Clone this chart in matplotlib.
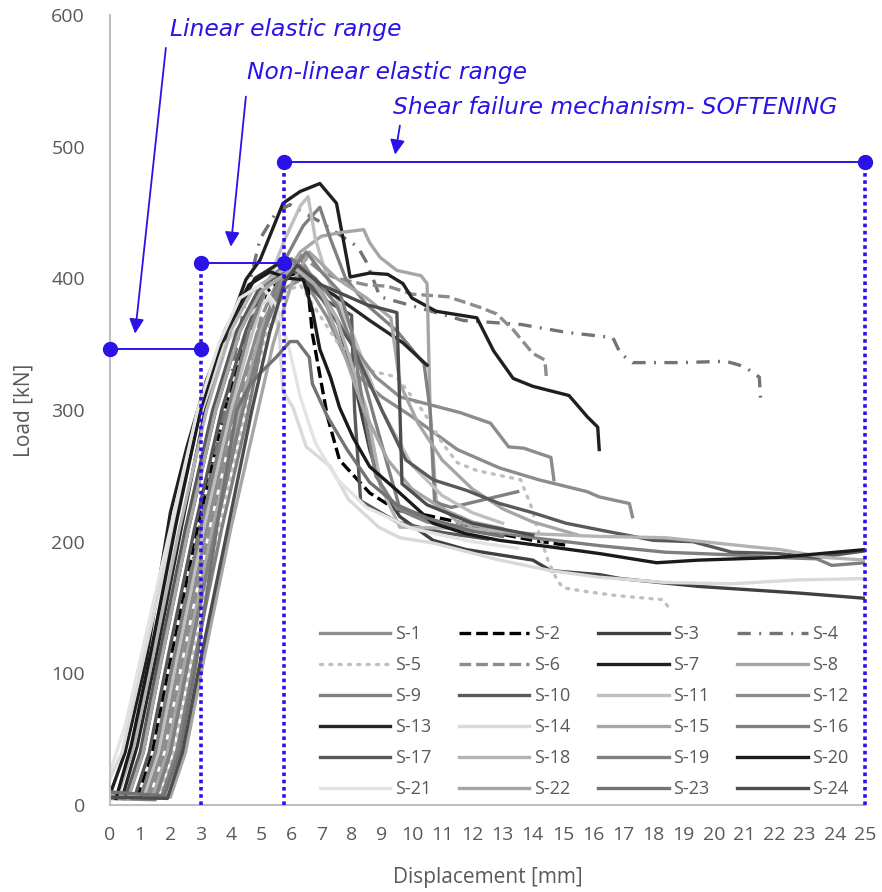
import matplotlib.pyplot as plt

plt.rcParams['font.family'] = ['Open Sans', 'DejaVu Sans']

# Load-displacement curves: displacement [mm], load [kN]
s1_x = [0.0, 1.2, 1.7, 2.3, 3.2, 4.1, 4.9, 5.6, 6.4, 7.2, 8.0, 9.0, 10.0, 11.5, 12.9, 14.2, 15.8, 16.2, 17.2, 17.3]
s1_y = [6, 5, 40, 110, 210, 300, 360, 390, 400, 370, 330, 310, 295, 270, 256, 247, 238, 234, 229, 219]

s2_x = [0.9, 1.4, 2.0, 2.9, 3.8, 4.5, 5.2, 5.9, 6.5, 6.7, 7.2, 7.6, 8.6, 9.5, 10.5, 11.7, 12.9, 14.0, 15.2]
s2_y = [5, 40, 110, 210, 300, 355, 390, 402, 406, 358, 295, 262, 237, 224, 220, 214, 206, 201, 197]

s3_x = [0.0, 0.6, 1.1, 1.7, 2.6, 3.5, 4.3, 5.1, 6.0, 6.8, 7.5, 8.0, 8.6, 9.0, 9.6, 10.7, 11.8, 14.0, 14.6, 16.2, 16.9, 19.5, 22.8, 25.0]
s3_y = [8, 6, 40, 110, 210, 300, 360, 395, 410, 395, 370, 330, 270, 240, 219, 201, 194, 186, 178, 175, 172, 166, 161, 157]

s4_x = [1.0, 1.5, 2.1, 3.0, 3.8, 4.5, 4.97, 5.5, 5.96, 6.95, 8.2, 8.5, 8.94, 10.8, 11.7, 13.6, 15.1, 16.65, 16.9, 17.3, 18.9, 20.4, 21.0, 21.5, 21.55]
s4_y = [5, 40, 110, 215, 300, 385, 430, 450, 456, 443, 424, 412, 386, 374, 368, 365, 359, 355, 343, 336, 336, 337, 333, 325, 306]

s5_x = [1.6, 2.1, 2.7, 3.6, 4.5, 5.2, 5.8, 6.3, 7.0, 7.6, 8.6, 9.5, 10.4, 11.0, 11.5, 12.15, 13.6, 13.7, 13.96, 14.1, 14.5, 14.8, 15.0, 15.8, 16.8, 18.3, 18.5]
s5_y = [5, 40, 110, 210, 300, 360, 390, 395, 370, 349, 330, 325, 298, 275, 260, 254, 247, 241, 226, 214, 186, 171, 165, 162, 159, 156, 150]

s6_x = [1.3, 1.8, 2.4, 3.3, 4.2, 5.0, 5.7, 6.3, 7.0, 7.5, 8.5, 9.2, 10.0, 11.2, 12.25, 12.8, 13.35, 14.0, 14.4, 14.45]
s6_y = [5, 40, 110, 210, 300, 370, 405, 418, 405, 400, 395, 394, 388, 386, 378, 373, 361, 343, 338, 325]

s7_x = [0.0, 0.5, 1.2, 2.0, 2.55, 3.2, 3.9, 4.5, 4.97, 5.73, 6.3, 6.95, 7.5, 7.85, 7.95, 8.6, 9.2, 9.7, 10.0, 10.8, 12.15, 12.7, 13.35, 14.0, 15.2, 15.8, 16.15, 16.2]
s7_y = [8, 40, 110, 222, 272, 323, 361, 399, 414, 457, 466, 472, 457, 414, 401, 404, 403, 396, 385, 375, 370, 345, 324, 318, 311, 295, 287, 270]

s8_x = [1.4, 1.9, 2.5, 3.4, 4.3, 5.0, 5.6, 6.3, 7.0, 7.7, 8.4, 8.6, 8.94, 9.5, 10.3, 10.5, 10.6, 10.8, 11.5, 13.0]
s8_y = [5, 40, 110, 210, 300, 360, 395, 420, 432, 435, 437, 427, 416, 406, 402, 396, 300, 231, 215, 208]

s9_x = [0.0, 1.7, 2.2, 2.8, 3.7, 4.5, 5.1, 5.7, 6.4, 6.95, 7.3, 7.8, 8.5, 9.5, 10.4, 10.6, 10.75, 11.3, 13.5]
s9_y = [9, 6, 40, 110, 210, 290, 360, 410, 440, 454, 430, 400, 380, 360, 335, 300, 230, 226, 238]

s10_x = [0.8, 1.3, 1.9, 2.8, 3.7, 4.5, 5.2, 6.0, 7.0, 8.0, 8.1, 8.3, 9.5, 11.0, 12.5]
s10_y = [5, 40, 110, 210, 300, 360, 398, 408, 385, 372, 300, 231, 215, 207, 202]

s11_x = [1.1, 1.6, 2.2, 3.1, 4.0, 4.6, 5.2, 5.8, 6.3, 6.56, 6.8, 7.2, 8.0, 9.0, 10.0, 11.0, 12.0, 13.0]
s11_y = [5, 40, 110, 210, 300, 350, 395, 430, 455, 462, 430, 400, 360, 300, 258, 235, 222, 214]

s12_x = [1.5, 2.0, 2.6, 3.5, 4.4, 5.1, 5.7, 6.3, 7.0, 8.0, 8.8, 9.6, 11.6, 12.6, 13.2, 13.7, 14.6, 14.7]
s12_y = [5, 40, 110, 210, 300, 360, 400, 415, 390, 350, 325, 310, 298, 290, 272, 271, 264, 247]

s13_x = [0.4, 0.9, 1.5, 2.4, 3.2, 4.0, 4.8, 5.5, 5.9, 6.5, 7.5, 8.6, 9.7, 10.5]
s13_y = [5, 45, 110, 215, 305, 365, 400, 410, 412, 400, 386, 368, 351, 334]

s14_x = [0.0, 0.4, 1.0, 2.0, 2.9, 3.8, 4.6, 5.3, 5.6, 5.73, 6.06, 6.5, 7.3, 7.9, 8.9, 9.6, 10.7, 12.9, 14.6, 16.2, 18.4, 20.6, 22.8, 25.0]
s14_y = [20, 40, 100, 200, 290, 350, 372, 385, 360, 314, 302, 272, 257, 232, 211, 203, 199, 186, 178, 173, 169, 168, 171, 172]

s15_x = [0.0, 2.0, 2.5, 3.1, 4.0, 4.8, 5.4, 6.0, 6.6, 7.5, 8.5, 9.3, 9.6, 10.2, 11.0, 12.0, 13.0, 14.0, 15.5]
s15_y = [7, 6, 40, 110, 210, 290, 350, 395, 420, 400, 385, 370, 320, 290, 262, 240, 225, 215, 205]

s16_x = [1.0, 1.5, 2.1, 3.0, 3.9, 4.6, 5.3, 6.0, 6.8, 7.5, 8.2, 8.8, 9.6, 10.5, 12.0, 14.0, 16.2, 18.4, 20.6, 22.0, 23.4, 23.9, 25.0]
s16_y = [5, 40, 110, 210, 300, 360, 400, 415, 400, 380, 340, 290, 225, 216, 210, 203, 197, 192, 190, 188, 187, 182, 184]

s17_x = [0.5, 1.0, 1.6, 2.5, 3.4, 4.2, 5.0, 5.7, 6.3, 7.0, 8.0, 9.0, 9.8, 10.7, 11.8, 12.9, 14.0, 15.1, 16.2, 18.0, 19.3, 20.6, 22.1, 23.4, 25.0]
s17_y = [5, 40, 110, 210, 300, 360, 395, 405, 405, 385, 350, 300, 262, 247, 239, 229, 222, 214, 209, 201, 200, 192, 191, 188, 193]

s18_x = [0.3, 0.8, 1.4, 2.3, 3.2, 4.0, 4.7, 5.3, 6.0, 6.8, 7.5, 8.5, 9.0, 9.6, 11.8, 14.0, 16.2, 18.4, 21.3, 22.2, 23.7, 25.0]
s18_y = [10, 45, 110, 210, 300, 360, 390, 400, 410, 395, 370, 300, 240, 211, 210, 206, 204, 203, 196, 194, 188, 186]

s19_x = [0.0, 1.5, 2.0, 2.6, 3.5, 4.4, 5.1, 5.8, 6.5, 7.0, 7.6, 8.0, 8.4, 8.8, 9.5, 10.5, 12.0]
s19_y = [5, 4, 40, 110, 210, 300, 360, 400, 420, 405, 390, 360, 300, 250, 225, 215, 208]

s20_x = [0.2, 0.7, 1.3, 2.2, 3.0, 3.8, 4.6, 5.3, 5.9, 6.4, 6.7, 6.95, 7.3, 7.6, 8.05, 8.6, 9.5, 10.7, 11.8, 12.9, 14.6, 16.2, 18.1, 19.5, 22.1, 25.0]
s20_y = [5, 45, 110, 215, 300, 360, 395, 405, 400, 399, 376, 346, 325, 302, 279, 257, 239, 214, 206, 201, 196, 191, 184, 186, 188, 194]

s21_x = [0.0, 0.5, 1.1, 2.0, 2.9, 3.6, 4.3, 5.0, 5.5, 5.9, 6.3, 6.8, 7.5, 8.5, 10.0, 12.0, 13.5]
s21_y = [25, 60, 120, 210, 300, 350, 385, 395, 380, 350, 310, 275, 248, 226, 210, 200, 195]

s22_x = [0.6, 1.1, 1.7, 2.6, 3.5, 4.3, 5.0, 5.6, 6.2, 7.0, 7.8, 8.4, 9.2, 10.0, 11.0, 12.0, 13.0]
s22_y = [5, 40, 110, 210, 300, 360, 390, 400, 410, 390, 340, 300, 262, 240, 225, 215, 210]

s23_x = [0.0, 1.8, 2.3, 2.8, 3.6, 4.2, 4.6, 4.97, 5.5, 5.96, 6.2, 6.6, 6.7, 7.2, 7.85, 8.6, 9.5, 10.5, 12.0, 13.0]
s23_y = [10, 7, 40, 100, 220, 300, 318, 328, 340, 352, 352, 340, 320, 295, 270, 245, 228, 218, 208, 204]

s24_x = [0.0, 1.9, 2.4, 3.0, 3.9, 4.7, 5.3, 5.8, 6.2, 7.0, 8.5, 9.5, 9.6, 9.67, 10.5, 12.0, 14.0]
s24_y = [6, 5, 40, 110, 210, 300, 360, 398, 410, 395, 380, 374, 300, 244, 228, 214, 205]

curves_x = [s1_x, s2_x, s3_x, s4_x, s5_x, s6_x, s7_x, s8_x, s9_x, s10_x, s11_x, s12_x,
            s13_x, s14_x, s15_x, s16_x, s17_x, s18_x, s19_x, s20_x, s21_x, s22_x, s23_x, s24_x]
curves_y = [s1_y, s2_y, s3_y, s4_y, s5_y, s6_y, s7_y, s8_y, s9_y, s10_y, s11_y, s12_y,
            s13_y, s14_y, s15_y, s16_y, s17_y, s18_y, s19_y, s20_y, s21_y, s22_y, s23_y, s24_y]
labels = ['S-%d' % i for i in range(1, 25)]

colors = ['#8c8c8c', '#000000', '#404040', '#737373', '#bfbfbf', '#8c8c8c',
          '#1f1f1f', '#a6a6a6', '#808080', '#595959', '#bfbfbf', '#8c8c8c',
          '#262626', '#d9d9d9', '#a6a6a6', '#7f7f7f', '#595959', '#b3b3b3',
          '#808080', '#1a1a1a', '#e3e3e3', '#a6a6a6', '#737373', '#4d4d4d']
styles = ['-', (0, (3.5, 1.5)), '-', (0, (4, 2.5, 0.6, 2.5)), (0, (0.6, 2.2)), (0, (3.5, 1.5))] + ['-'] * 18

# phase markers (blue)
blue = '#2B12E6'
lin_x = [0, 3]
lin_y = [346, 346]
nonlin_x = [3, 5.76]
nonlin_y = [412, 412]
soft_x = [5.76, 25]
soft_y = [488, 488]

fig = plt.figure(figsize=(8.82, 8.92), dpi=100)
ax = fig.add_axes([0.1247, 0.0975, 0.8560, 0.8857])

handles = []
for i in range(24):
    ln, = ax.plot(curves_x[i], curves_y[i], color=colors[i], linestyle=styles[i],
                  lw=2.4, label=labels[i], dash_capstyle='round' if i == 4 else 'butt')
    handles.append(ln)

# vertical dotted boundaries
for xv, yv in [(3, 412), (5.76, 488), (25, 488)]:
    ax.plot([xv, xv], [0, yv], color=blue, lw=2.6, linestyle=(0, (1, 1)), zorder=5, clip_on=False)

for xs, ys in [(lin_x, lin_y), (nonlin_x, nonlin_y), (soft_x, soft_y)]:
    ax.plot(xs, ys, color=blue, lw=1.4, marker='o', markersize=10, zorder=6, clip_on=False)

arrow = dict(arrowstyle='-|>', color=blue, lw=1.3, mutation_scale=22, shrinkA=0, shrinkB=0)
ax.annotate('', xy=(0.83, 358), xytext=(1.85, 575), arrowprops=arrow, annotation_clip=False)
ax.annotate('', xy=(4.0, 424), xytext=(4.5, 538), arrowprops=arrow, annotation_clip=False)
ax.annotate('', xy=(9.44, 494), xytext=(9.6, 516), arrowprops=arrow, annotation_clip=False)

tkw = dict(color=blue, fontsize=16.8, style='italic', va='center', ha='left',
           family='DejaVu Sans')
ax.text(1.99, 589, 'Linear elastic range', **tkw)
ax.text(4.54, 556, 'Non-linear elastic range', **tkw)
ax.text(9.37, 530, 'Shear failure mechanism- SOFTENING', **tkw)

ax.set_xlim(0, 25)
ax.set_ylim(0, 600)
ax.set_xticks(range(0, 26))
ax.set_yticks(range(0, 601, 100))
ax.tick_params(length=0, labelsize=14, labelcolor='#595959', pad=15)
ax.tick_params(axis='y', pad=18)
ax.set_xlabel('Displacement [mm]', fontsize=15, color='#595959', labelpad=17)
ax.set_ylabel('Load [kN]', fontsize=15, color='#595959', labelpad=12)
for sp in ['top', 'right']:
    ax.spines[sp].set_visible(False)
for sp in ['left', 'bottom']:
    ax.spines[sp].set_color('#bfbfbf')
    ax.spines[sp].set_linewidth(1.5)

# legend filled row by row, like the original
order = [r * 4 + c for c in range(4) for r in range(6)]
leg = ax.legend([handles[k] for k in order], [labels[k] for k in order], ncol=4,
                loc='lower right', bbox_to_anchor=(1.0, -0.012), frameon=False,
                fontsize=13, handlelength=3.9, columnspacing=1.55, labelspacing=0.72,
                handletextpad=0.25)
for t in leg.get_texts():
    t.set_color('#595959')

plt.savefig('out.png', dpi=100)
